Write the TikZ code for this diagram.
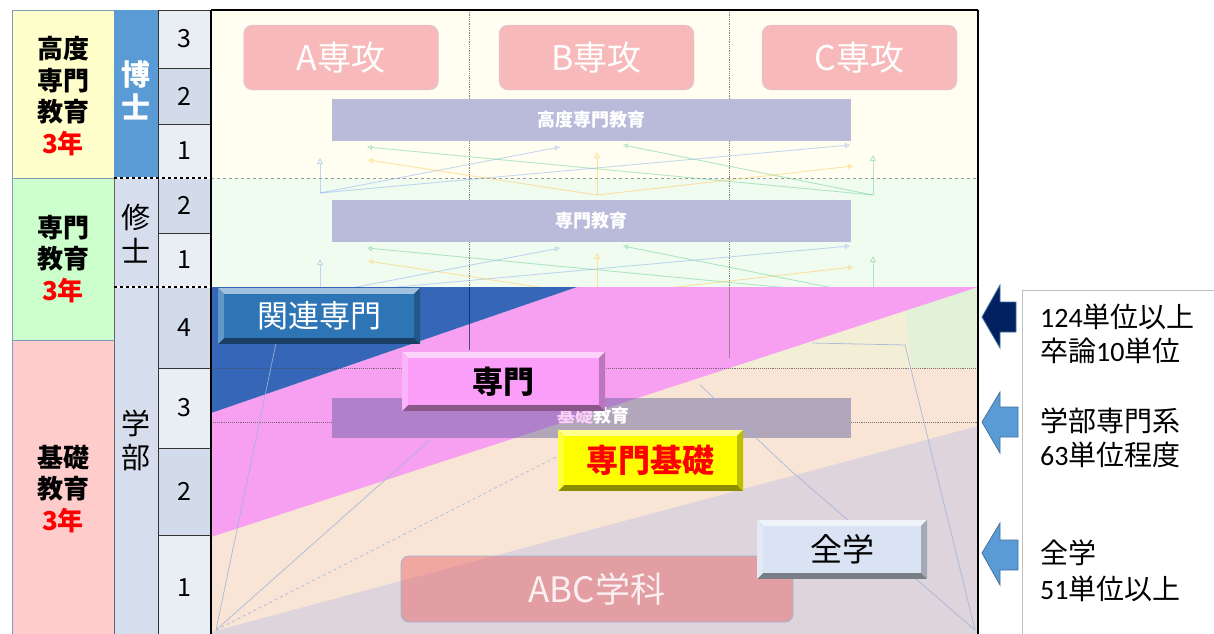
\documentclass[tikz,border=0pt]{standalone}
\usepackage{fontspec}
\setmainfont{Carlito}
\newfontfamily\jp{Noto Sans CJK JP}
\usetikzlibrary{calc,arrows.meta}
\definecolor{c1yel}{HTML}{FFFFCC}
\definecolor{c1grn}{HTML}{CCFFCC}
\definecolor{c1pnk}{HTML}{FFCCCC}
\definecolor{c1edge}{HTML}{7F9DB9}
\definecolor{hakase}{HTML}{5B9BD5}
\definecolor{c2light}{HTML}{D6DEEE}
\definecolor{cellA}{HTML}{E9EDF4}
\definecolor{cellB}{HTML}{D2DBEA}
\definecolor{bgtop}{HTML}{FFFEF0}
\definecolor{bgmid}{HTML}{F1FCF0}
\definecolor{rowfour}{HTML}{F3EFD6}
\definecolor{rowlow}{HTML}{F9E5D5}
\definecolor{grncorner}{HTML}{E3F1D8}
\definecolor{lav}{HTML}{DDD4DC}
\definecolor{bluetri}{HTML}{3566B8}
\definecolor{pinkreg}{HTML}{F7A0F2}
\definecolor{bandc}{HTML}{BABADB}
\definecolor{bandlow}{HTML}{5A5A9A}
\definecolor{specfill}{HTML}{F7B9B9}
\definecolor{specedge}{HTML}{C9D6EA}
\definecolor{abcfill}{HTML}{E86A6A}
\definecolor{btnblue}{HTML}{2E75B6}
\definecolor{btnpink}{HTML}{FA9EFA}
\definecolor{btnyel}{HTML}{FFFF00}
\definecolor{btnlb}{HTML}{DAE3F3}
\definecolor{navyc}{HTML}{002060}
\definecolor{arrblue}{HTML}{5B9BD5}
\definecolor{arredge}{HTML}{41719C}
\definecolor{boxedge}{HTML}{BFBFBF}
\definecolor{dgreen}{HTML}{5CC98A}
\definecolor{dblue}{HTML}{7FA8EE}
\definecolor{dorange}{HTML}{FFC040}
\definecolor{funnelc}{HTML}{9FB4D8}

\newcommand\bevelbtn[8]{%
  \fill[#6!55!black] (#2,#3) rectangle (#4,#5);
  \fill[#6!45!white] (#2,#3) -- (#4,#3) -- ($(#4,#3)+(-6,6)$) -- ($(#2,#3)+(6,6)$) -- cycle;
  \fill[#6!75!white] (#2,#3) -- ($(#2,#3)+(6,6)$) -- ($(#2,#5)+(6,-6)$) -- (#2,#5) -- cycle;
  \fill[#6!75!black] (#4,#3) -- (#4,#5) -- ($(#4,#5)+(-6,-6)$) -- ($(#4,#3)+(-6,6)$) -- cycle;
  \fill[#6] ($(#2,#3)+(6,6)$) rectangle ($(#4,#5)+(-6,-6)$);
  \node[#7] (#1) at ($(#2,#3)!0.5!(#4,#5)$) {#8};
}

\begin{document}
\begin{tikzpicture}[x=1pt,y=-1pt,
  cellline/.style={draw=black!80,line width=0.8pt},
  c1box/.style={draw=c1edge,line width=0.8pt},
  decor/.style={line width=0.9pt,opacity=0.45},
  tipup/.style={-{Triangle[length=6pt,width=6pt,open]}},
  funnel/.style={draw=funnelc,line width=0.8pt,opacity=0.8},
  rtext/.style={anchor=west,inner sep=0pt,font=\fontsize{28}{33}\selectfont},
  specbox/.style={draw=specedge,fill=specfill,rounded corners=9pt,minimum width=195pt,minimum height=65pt,inner sep=0pt,text=white,font=\jp\fontsize{34}{36}\selectfont},
  bandbox/.style={fill=bandc,minimum width=519pt,minimum height=42pt,inner sep=0pt,text=white,font=\jp\bfseries\fontsize{18}{20}\selectfont}
]
\useasboundingbox (0,0) rectangle (1214,633);
\fill[white] (0,0) rectangle (1214,633);

% ---------- column 1
\draw[c1box,fill=c1yel] (12,10) rectangle (114,178);
\draw[c1box,fill=c1grn] (12,178) rectangle (114,340);
\draw[c1box,fill=c1pnk] (12,340) rectangle (114,640);
\node[align=center,font=\jp\bfseries\fontsize{26}{31.5}\selectfont] (lvA) at (63,96) {高度\\専門\\教育\\\textcolor{red}{3年}};
\node[align=center,font=\jp\bfseries\fontsize{26}{31.5}\selectfont] (lvB) at (63,259) {専門\\教育\\\textcolor{red}{3年}};
\node[align=center,font=\jp\bfseries\fontsize{26}{31.5}\selectfont] (lvC) at (63,489) {基礎\\教育\\\textcolor{red}{3年}};

% ---------- column 2
\fill[hakase] (114,10) rectangle (158,178);
\fill[c2light] (114,178) rectangle (158,640);
\draw[black!60,line width=0.6pt] (114,178) rectangle (158,640);
\node[text=white,align=center,font=\jp\bfseries\fontsize{29}{33}\selectfont] (hk) at (136,90) {博\\士};
\node[align=center,font=\jp\fontsize{29}{34}\selectfont] (ss) at (136,234) {修\\士};
\node[align=center,font=\jp\fontsize{29}{34}\selectfont] (gb) at (136,440) {学\\部};

% ---------- column 3
\foreach \ya/\yb/\n/\c [count=\i] in {10/68/3/cellA,68/124/2/cellB,124/178/1/cellA,178/233/2/cellB,233/287/1/cellA,287/368/4/cellB,368/448/3/cellA,448/535/2/cellB,535/640/1/cellA}{
  \draw[cellline,fill=\c] (158,\ya) rectangle (211,\yb);
  \node[font=\jp\fontsize{25}{27}\selectfont] (yr\i) at (184.5,{(\ya+\yb)/2}) {\n};
}
\draw[white,line width=1.4pt] (114,178) -- (211,178);
\draw[black,dashed,line width=1.2pt] (114,178) -- (211,178);
\draw[white,line width=1.4pt] (114,287) -- (211,287);
\draw[black,dashed,line width=1.2pt] (114,287) -- (211,287);

% ---------- main area, upper part
\fill[bgtop] (211,10) rectangle (978,178);
\fill[bgmid] (211,178) rectangle (978,287);
\draw[gray,densely dotted,line width=0.8pt] (469,10) -- (469,287);
\draw[gray,densely dotted,line width=0.8pt] (729,10) -- (729,287);
\draw[gray!80,dashed,line width=0.8pt] (211,178) -- (978,178);

\node[specbox] (spA) at (341,57.5) {A専攻};
\node[specbox] (spB) at (596.5,57.5) {B専攻};
\node[specbox] (spC) at (859.5,57.5) {C専攻};
\node[bandbox] (bandH) at (591.5,120) {高度専門教育};
\node[bandbox] (bandM) at (591.5,221) {専門教育};

\foreach \dy in {0,101}{
  \begin{scope}[shift={(0,\dy)}]
    \draw[decor,dgreen,-{Triangle[length=5pt,width=5pt,open]}] (873,195) -- (367,147);
    \draw[decor,dgreen,-{Triangle[length=5pt,width=5pt,open]}] (873,195) -- (623,145);
    \draw[decor,dgreen,tipup] (873,195) -- (873,155);
    \draw[decor,dblue,-{Triangle[length=5pt,width=5pt,open]}] (320,193) -- (560,147);
    \draw[decor,dblue,-{Triangle[length=5pt,width=5pt,open]}] (320,193) -- (850,145);
    \draw[decor,dblue,tipup] (320,193) -- (320,158);
    \draw[decor,dorange,-{Triangle[length=5pt,width=5pt,open]}] (597,195) -- (368,160);
    \draw[decor,dorange,-{Triangle[length=5pt,width=5pt,open]}] (597,195) -- (853,166);
    \draw[decor,dorange,tipup] (597,195) -- (597,152);
  \end{scope}
}

% ---------- main area, lower part
\fill[rowfour] (211,287) rectangle (978,368);
\fill[rowlow] (211,368) rectangle (978,640);
\fill[grncorner] (905,309) -- (978,287) -- (978,368) -- (912,368) -- cycle;
\fill[lav] (211,632) -- (978,426) -- (978,640) -- (211,640) -- cycle;
\draw[draw=funnelc,fill=abcfill,fill opacity=0.5,rounded corners=8pt,line width=0.8pt] (401,556) rectangle (793,622);
\node[text=white,text opacity=0.85,font=\jp\fontsize{35}{37}\selectfont] (abc) at (597,589) {ABC学科};
\fill[pinkreg] (211,413) -- (577,287) -- (978,287) -- (211,537) -- cycle;
\fill[bluetri] (211,287) -- (577,287) -- (211,413) -- cycle;
\fill[bandlow,opacity=0.45] (332,398) rectangle (851,438);
\node[text=white,font=\jp\bfseries\fontsize{18}{20}\selectfont] (bandL) at (593,416) {\textcolor{white!50!pinkreg}{基礎}教育};

\draw[black!70,densely dotted,line width=0.9pt,opacity=0.7] (211,368) -- (978,368);
\draw[black!70,densely dotted,line width=0.9pt,opacity=0.7] (211,422) -- (332,422);
\draw[black!70,densely dotted,line width=0.9pt,opacity=0.7] (851,422) -- (978,422);
\draw[navyc,line width=0.9pt,opacity=0.7] (469,287) -- (469,350);
\draw[black!60,line width=0.9pt,opacity=0.6] (729,287) -- (729,358);

\draw[funnel] (216,630) -- (285,300);
\draw[funnel,dashed] (216,630) -- (560,455);
\draw[funnel] (216,630) -- (430,440);
\draw[funnel] (975,630) -- (905,345) -- (812,343);
\draw[funnel] (975,630) -- (790,470) -- (700,385);

% ---------- borders
\draw[black,line width=1.3pt] (211,10) -- (978,10);
\draw[black,line width=1.3pt] (211,10) -- (211,640);
\draw[black,line width=1.3pt] (978,10) -- (978,640);

% ---------- buttons
\bevelbtn{kanren}{218}{288}{420}{344}{btnblue}{text=white,font=\jp\fontsize{31}{33}\selectfont}{関連専門}
\bevelbtn{senmon}{402}{352}{605}{411}{btnpink}{text=black,font=\jp\bfseries\fontsize{31}{33}\selectfont}{専門}
\bevelbtn{kiso}{558}{430}{743}{491}{btnyel}{text=red,font=\jp\bfseries\fontsize{32}{34}\selectfont}{専門基礎}
\bevelbtn{zengaku}{757}{520}{927}{579}{btnlb}{text=black,font=\jp\fontsize{32}{34}\selectfont}{全学}

% ---------- right side
\draw[boxedge,line width=1pt,fill=white] (1022,290) rectangle (1230,650);
\draw[arredge,fill=navyc,line width=0.8pt] (982,317) -- (1000,285) -- (1000,302) -- (1016,302) -- (1016,332) -- (1000,332) -- (1000,348) -- cycle;
\draw[arredge,fill=arrblue,line width=0.8pt] (982,422) -- (1000,392) -- (1000,407) -- (1018,407) -- (1018,437) -- (1000,437) -- (1000,453) -- cycle;
\draw[arredge,fill=arrblue,line width=0.8pt] (982,553) -- (1000,523) -- (1000,540) -- (1018,540) -- (1018,570) -- (1000,570) -- (1000,585) -- cycle;

\node[rtext] (r1) at (1040,317) {124{\jp 単位以上}};
\node[rtext] (r2) at (1040,351) {{\jp 卒論}10{\jp 単位}};
\node[rtext] (r3) at (1040,421) {\jp 学部専門系};
\node[rtext] (r4) at (1040,455) {63{\jp 単位程度}};
\node[rtext] (r5) at (1040,553) {\jp 全学};
\node[rtext] (r6) at (1040,589) {51{\jp 単位以上}};
\end{tikzpicture}
\end{document}
